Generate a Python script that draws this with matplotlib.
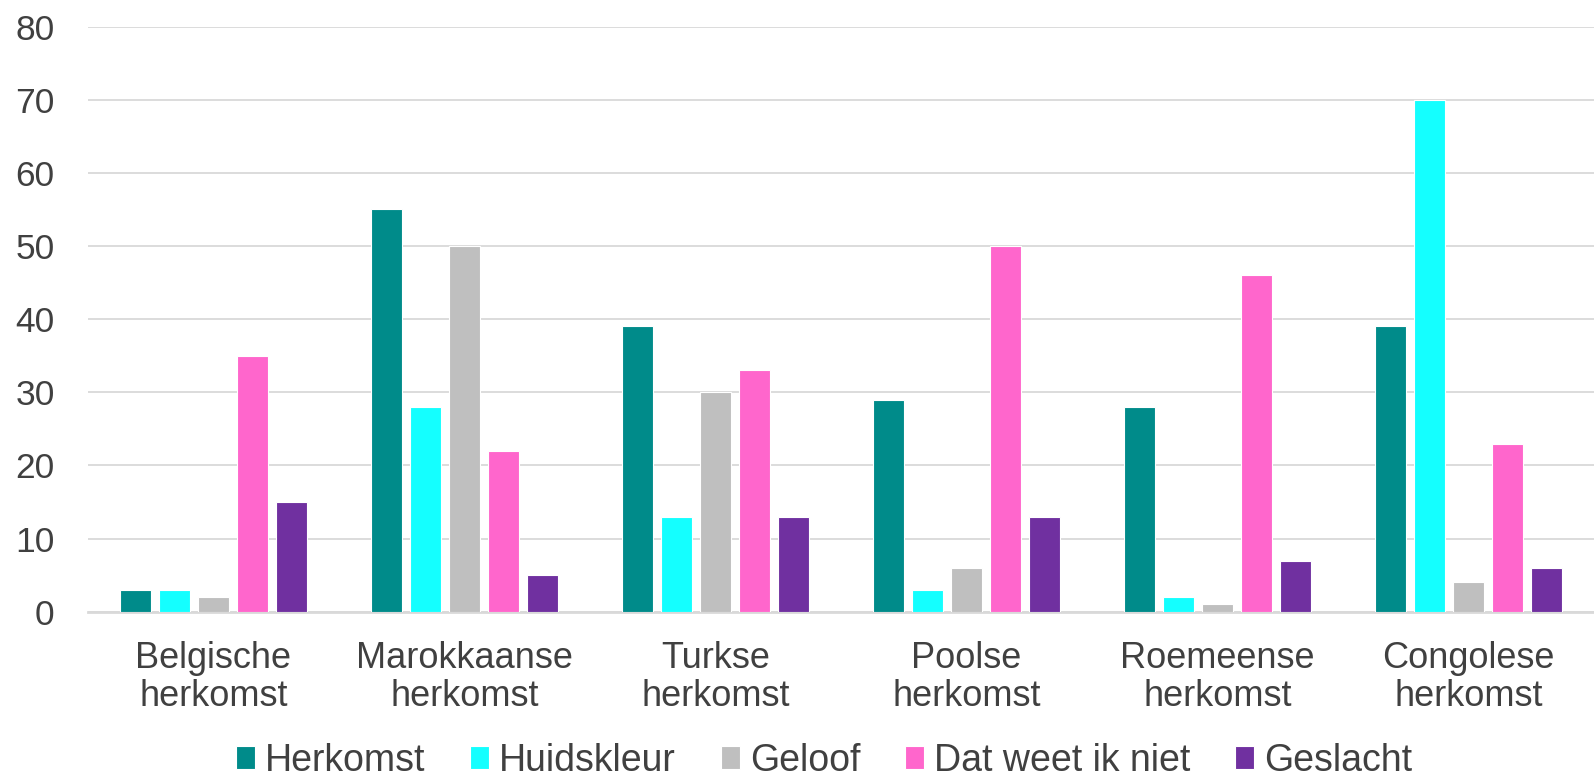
import numpy as np
import matplotlib.pyplot as plt

categories = ["Belgische\nherkomst", "Marokkaanse\nherkomst", "Turkse\nherkomst",
              "Poolse\nherkomst", "Roemeense\nherkomst", "Congolese\nherkomst"]
series_names = ["Herkomst", "Huidskleur", "Geloof", "Dat weet ik niet", "Geslacht"]
herkomst = [3, 55, 39, 29, 28, 39]
huidskleur = [3, 28, 13, 3, 2, 70]
geloof = [2, 50, 30, 6, 1, 4]
weet_niet = [35, 22, 33, 50, 46, 23]
geslacht = [15, 5, 13, 13, 7, 6]
colors = ["#008B8A", "#14FFFF", "#BFBFBF", "#FF66CC", "#7030A0"]

plt.rcParams['font.family'] = ['Liberation Sans', 'DejaVu Sans']
text_color = "#404040"

fig = plt.figure(figsize=(15.94, 7.81), dpi=100)
ax = fig.add_axes([0.0552, 0.2167, 0.9448, 0.7493])

x = np.arange(len(categories))
step = 0.155
width = 0.124
all_series = [herkomst, huidskleur, geloof, weet_niet, geslacht]
for i, (vals, name, c) in enumerate(zip(all_series, series_names, colors)):
    ax.bar(x + (i - 2) * step, vals, width, color=c, label=name,
           edgecolor="white", linewidth=0.8, zorder=3)

ax.set_xlim(-0.5, len(categories) - 0.5)
ax.set_ylim(0, 80)
ax.set_yticks(range(0, 81, 10))
ax.yaxis.grid(True, color="#D9D9D9", linewidth=1.3, zorder=0)
ax.set_xticks(x)
ax.set_xticklabels(categories, fontsize=26, color=text_color, linespacing=1.12)
ax.tick_params(axis="y", labelsize=25.5, labelcolor=text_color, length=0, pad=24)
ax.tick_params(axis="x", length=0, pad=21)
for s in ["top", "right", "left"]:
    ax.spines[s].set_visible(False)
ax.spines["bottom"].set_color("#D9D9D9")
ax.spines["bottom"].set_linewidth(2)

leg = fig.legend(loc="center", bbox_to_anchor=(0.517, 0.026), ncol=5, frameon=False,
                 fontsize=27, handlelength=0.5, handleheight=0.55, handletextpad=0.27,
                 columnspacing=1.2, borderaxespad=0, borderpad=0)
for t in leg.get_texts():
    t.set_color(text_color)

fig.savefig("out.png", dpi=100)
